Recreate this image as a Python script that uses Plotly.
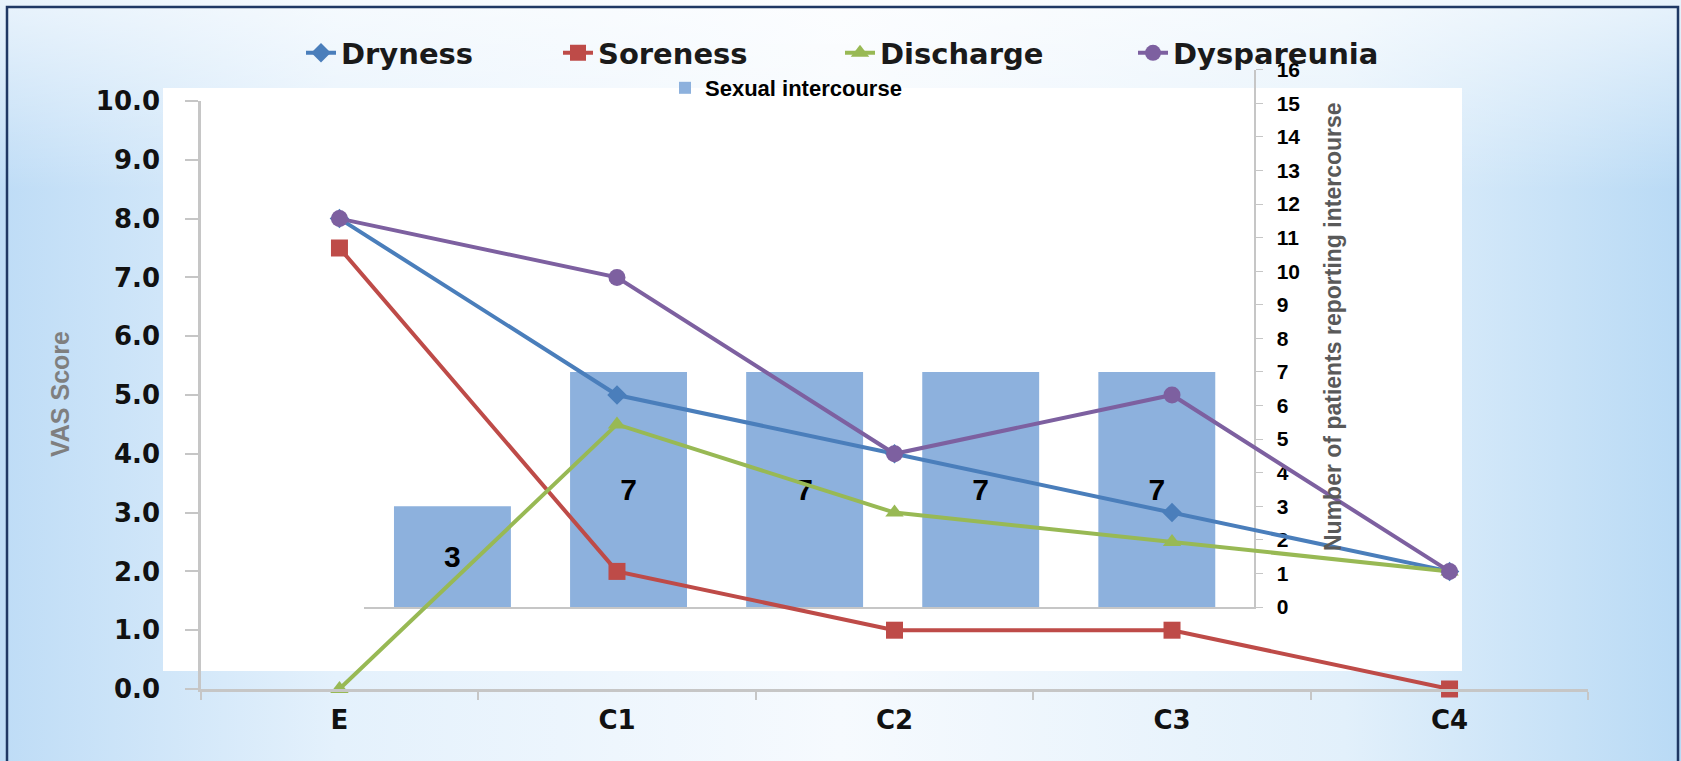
import base64
import plotly.graph_objects as go

W, H = 1681, 761

# ---------------- data ----------------
categories = ["E", "C1", "C2", "C3", "C4"]
dryness = [8.0, 5.0, 4.0, 3.0, 2.0]
soreness = [7.5, 2.0, 1.0, 1.0, 0.0]
discharge = [0.0, 4.5, 3.0, 2.5, 2.0]
dyspareunia = [8.0, 7.0, 4.0, 5.0, 2.0]

bar_categories = ["V1", "V2", "V3", "V4", "V5"]
intercourse = [3, 7, 7, 7, 7]

vas_tickvals = [0, 1, 2, 3, 4, 5, 6, 7, 8, 9, 10]
vas_ticktext = ["0.0", "1.0", "2.0", "3.0", "4.0", "5.0", "6.0", "7.0", "8.0", "9.0", "10.0"]
count_tickvals = list(range(0, 17))


def fx(px):
    return px / W


def fy(py):
    return 1 - py / H


BOLD_WIDE = "DejaVu Sans"
ARIAL = "Liberation Sans, Arial, sans-serif"
NARROW = "Liberation Sans Narrow, Arial Narrow, Liberation Sans, Arial, sans-serif"

fig = go.Figure()

# bars (drawn in the first subplot -> below the lines)
fig.add_trace(go.Bar(
    x=bar_categories, y=intercourse, xaxis="x", yaxis="y",
    name="Sexual intercourse", legend="legend2",
    marker=dict(color="#8DB1DD", line=dict(width=0)),
    text=[str(v) for v in intercourse], textposition="inside",
    insidetextanchor="middle", textangle=0,
    textfont=dict(family=NARROW, size=30, color="black", weight="bold"),
    cliponaxis=False,
))

series = [
    ("Dryness", dryness, "#4A7EBB", "diamond", 15, 212),
    ("Soreness", soreness, "#BE4B48", "square", 17, 237),
    ("Discharge", discharge, "#98B954", "triangle-up", 16, 248),
    ("Dyspareunia", dyspareunia, "#7D60A0", "circle", 17, 240),
]
for name, vals, color, sym, size, lw in series:
    fig.add_trace(go.Scatter(
        x=categories, y=vals, xaxis="x2", yaxis="y2", name=name,
        mode="lines+markers",
        line=dict(color=color, width=4),
        marker=dict(symbol=sym, size=size, color=color),
        cliponaxis=False, legendwidth=lw,
    ))

# background gradient as an svg image
svg = f'''<svg xmlns="http://www.w3.org/2000/svg" width="{W}" height="{H}" viewBox="0 0 {W} {H}" preserveAspectRatio="none">
<defs>
<linearGradient id="h" x1="0" y1="0" x2="1" y2="0">
<stop offset="0" stop-color="#BEDCF6"/>
<stop offset="0.2" stop-color="#E4F1FC"/>
<stop offset="0.5" stop-color="#F6FAFE"/>
<stop offset="0.8" stop-color="#E2F0FB"/>
<stop offset="1" stop-color="#B9DAF5"/>
</linearGradient>
<linearGradient id="v" x1="0" y1="0" x2="0" y2="1">
<stop offset="0" stop-color="#FFFFFF" stop-opacity="0.65"/>
<stop offset="0.25" stop-color="#FFFFFF" stop-opacity="0.0"/>
<stop offset="1" stop-color="#FFFFFF" stop-opacity="0.0"/>
</linearGradient>
</defs>
<rect width="{W}" height="{H}" fill="url(#h)"/>
<rect width="{W}" height="{H}" fill="url(#v)"/>
</svg>'''
src = "data:image/svg+xml;base64," + base64.b64encode(svg.encode()).decode()

axis_gray = "#C6C6C6"

fig.update_layout(
    template="none",
    width=W, height=H, autosize=False,
    margin=dict(l=0, r=0, t=0, b=0, pad=0, autoexpand=False),
    paper_bgcolor="#EAF3FB", plot_bgcolor="rgba(0,0,0,0)",
    images=[dict(source=src, xref="paper", yref="paper", x=0, y=1,
                 sizex=1, sizey=1, sizing="stretch", xanchor="left",
                 yanchor="top", layer="below")],
    shapes=[
        dict(type="rect", xref="paper", yref="paper",
             x0=fx(163), x1=fx(1462), y0=fy(671), y1=fy(88),
             fillcolor="white", line=dict(width=0), layer="below"),
        dict(type="rect", xref="paper", yref="paper",
             x0=fx(7), x1=fx(1678), y0=fy(790), y1=fy(7),
             fillcolor="rgba(0,0,0,0)", line=dict(color="#1F3864", width=2.5),
             layer="below"),
    ],
    # bar chart axes
    xaxis=dict(domain=[fx(364.4), fx(1254)], range=[-0.5, 4.552], type="category",
               anchor="y", showline=True, linecolor=axis_gray, linewidth=1.5,
               ticks="", showticklabels=False, showgrid=False, zeroline=False,
               fixedrange=True, automargin=False),
    yaxis=dict(domain=[fy(607), fy(69.7)], range=[0, 16], tickvals=count_tickvals,
               side="right", anchor="x", showline=True, linecolor=axis_gray,
               linewidth=1.5, ticks="outside", ticklen=7, tickcolor=axis_gray,
               tickwidth=1,
               tickfont=dict(family=ARIAL, size=21, color="black", weight="bold"),
               ticklabelstandoff=10, showgrid=False, zeroline=False,
               fixedrange=True, automargin=False),
    bargap=0.336,
    # line chart axes
    xaxis2=dict(domain=[fx(200.7), fx(1588.3)], anchor="y2", range=[-0.5, 4.5],
                type="category", showline=True, linecolor=axis_gray, linewidth=2.5,
                ticks="outside", tickson="boundaries", ticklen=8,
                tickcolor=axis_gray, tickwidth=2,
                tickfont=dict(family=BOLD_WIDE, size=26, color="#111111", weight="bold"),
                ticklabelstandoff=6,
                showgrid=False, zeroline=False, fixedrange=True, automargin=False),
    yaxis2=dict(domain=[fy(689), fy(101)], anchor="x2", range=[0, 10],
                tickvals=vas_tickvals, ticktext=vas_ticktext,
                showline=True, linecolor=axis_gray, linewidth=2.5,
                ticks="outside", ticklen=13, tickcolor=axis_gray, tickwidth=2,
                tickfont=dict(family=BOLD_WIDE, size=26, color="#111111", weight="bold"),
                ticklabelstandoff=20,
                showgrid=False, zeroline=False, fixedrange=True, automargin=False),
    legend=dict(orientation="h", x=fx(301), xanchor="left", y=fy(53),
                yanchor="middle",
                font=dict(family=BOLD_WIDE, size=29, color="#1A1A1A", weight="bold"),
                bgcolor="rgba(0,0,0,0)", borderwidth=0, traceorder="normal"),
    legend2=dict(orientation="h", x=fx(665), xanchor="left", y=fy(88),
                 yanchor="middle",
                 font=dict(family=ARIAL, size=22, color="black", weight="bold"),
                 bgcolor="rgba(0,0,0,0)", borderwidth=0),
    annotations=[
        dict(text="VAS Score", xref="paper", yref="paper", x=fx(60), y=fy(394),
             textangle=-90, showarrow=False, xanchor="center", yanchor="middle",
             font=dict(family=ARIAL, size=25, color="#7F7F7F", weight="bold")),
        dict(text="Number of patients reporting intercourse", xref="paper",
             yref="paper", x=fx(1333), y=fy(327), textangle=-90, showarrow=False,
             xanchor="center", yanchor="middle",
             font=dict(family=ARIAL, size=23, color="#595959", weight="bold")),
    ],
)

fig.write_html("out.html",
               config={"displayModeBar": False, "staticPlot": True},
               post_script="document.body.style.margin='0';document.body.style.padding='0';")
